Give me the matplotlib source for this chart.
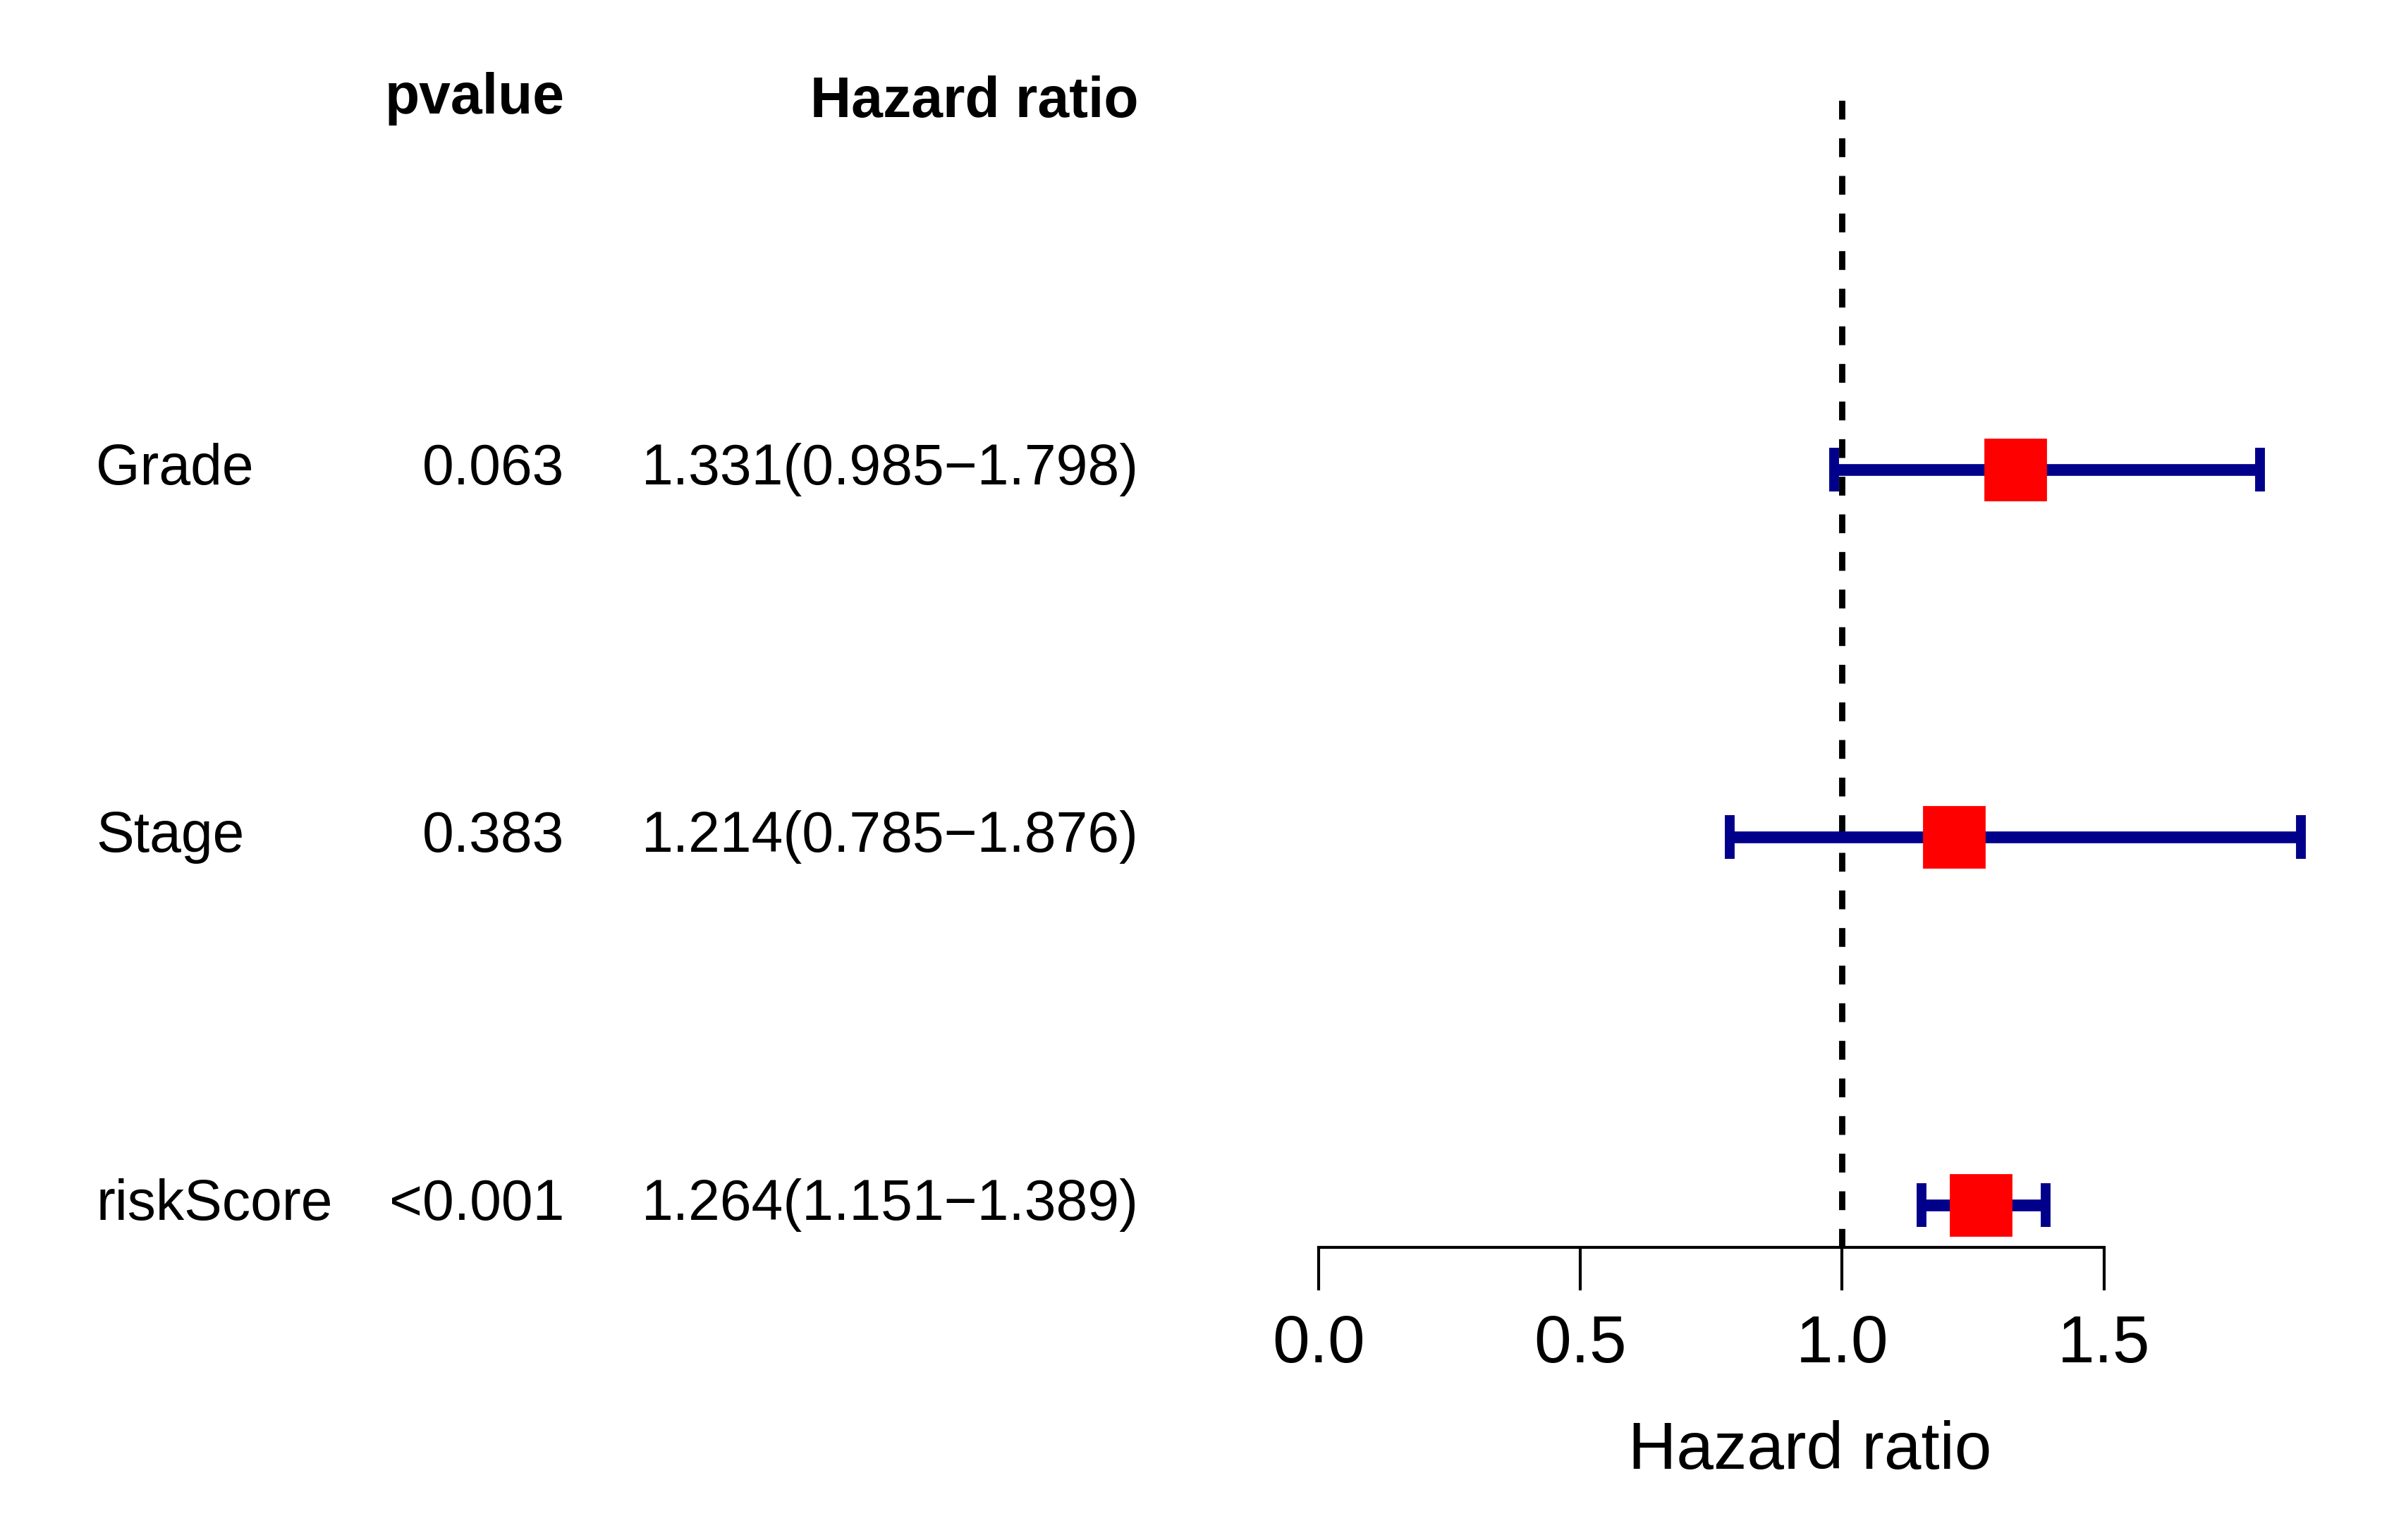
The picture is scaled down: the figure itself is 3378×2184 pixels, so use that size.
import matplotlib.pyplot as plt
import matplotlib.transforms as mtransforms

plt.rcParams['font.family'] = ['Liberation Sans', 'DejaVu Sans']

names = ['Grade', 'Stage', 'riskScore']
pvals = ['0.063', '0.383', '<0.001']
hr = [1.331, 1.214, 1.264]
lo = [0.985, 0.785, 1.151]
hi = [1.798, 1.876, 1.389]
hr_text = ['1.331(0.985\u22121.798)', '1.214(0.785\u22121.876)', '1.264(1.151\u22121.389)']

fig = plt.figure(figsize=(16.89, 10.92), dpi=200)
ax = fig.add_axes([0.5535, 0.19, 0.4125, 0.7555])
ys = [3, 2, 1]
ax.set_xlim(0, 1.876)
ax.set_ylim(0.884, 4.05)

ax.axvline(1, color='black', ls=(0, (3, 3)), lw=3.2)
for y, h, l, u in zip(ys, hr, lo, hi):
    ax.errorbar(h, y, xerr=[[h - l], [u - h]], fmt='none', ecolor='darkblue',
                elinewidth=6, capsize=11, capthick=5, clip_on=False)
    ax.plot(h, y, 's', color='red', markersize=31, clip_on=False, zorder=5)

for s in ['top', 'right', 'left']:
    ax.spines[s].set_visible(False)
ax.spines['bottom'].set_bounds(0, 1.5)
ax.spines['bottom'].set_linewidth(1.5)
ax.set_yticks([])
ax.set_xticks([0, 0.5, 1.0, 1.5])
ax.set_xticklabels(['0.0', '0.5', '1.0', '1.5'])
ax.tick_params(axis='x', direction='out', length=22, width=1.5, labelsize=34, pad=12)
ax.set_xlabel('Hazard ratio', fontsize=34, labelpad=22)

tr = mtransforms.blended_transform_factory(fig.transFigure, ax.transData)
fs = 29
fig.text(0.237, 4.01, 'pvalue', transform=tr, ha='right', va='center', fontsize=fs, fontweight='bold')
fig.text(0.478, 4.0, 'Hazard ratio', transform=tr, ha='right', va='center', fontsize=fs, fontweight='bold')
for y, n, p, t in zip(ys, names, pvals, hr_text):
    fig.text(0.0404, y, n, transform=tr, ha='left', va='center', fontsize=fs)
    fig.text(0.237, y, p, transform=tr, ha='right', va='center', fontsize=fs)
    fig.text(0.478, y, t, transform=tr, ha='right', va='center', fontsize=fs)

fig.savefig('out.png', dpi=200)
